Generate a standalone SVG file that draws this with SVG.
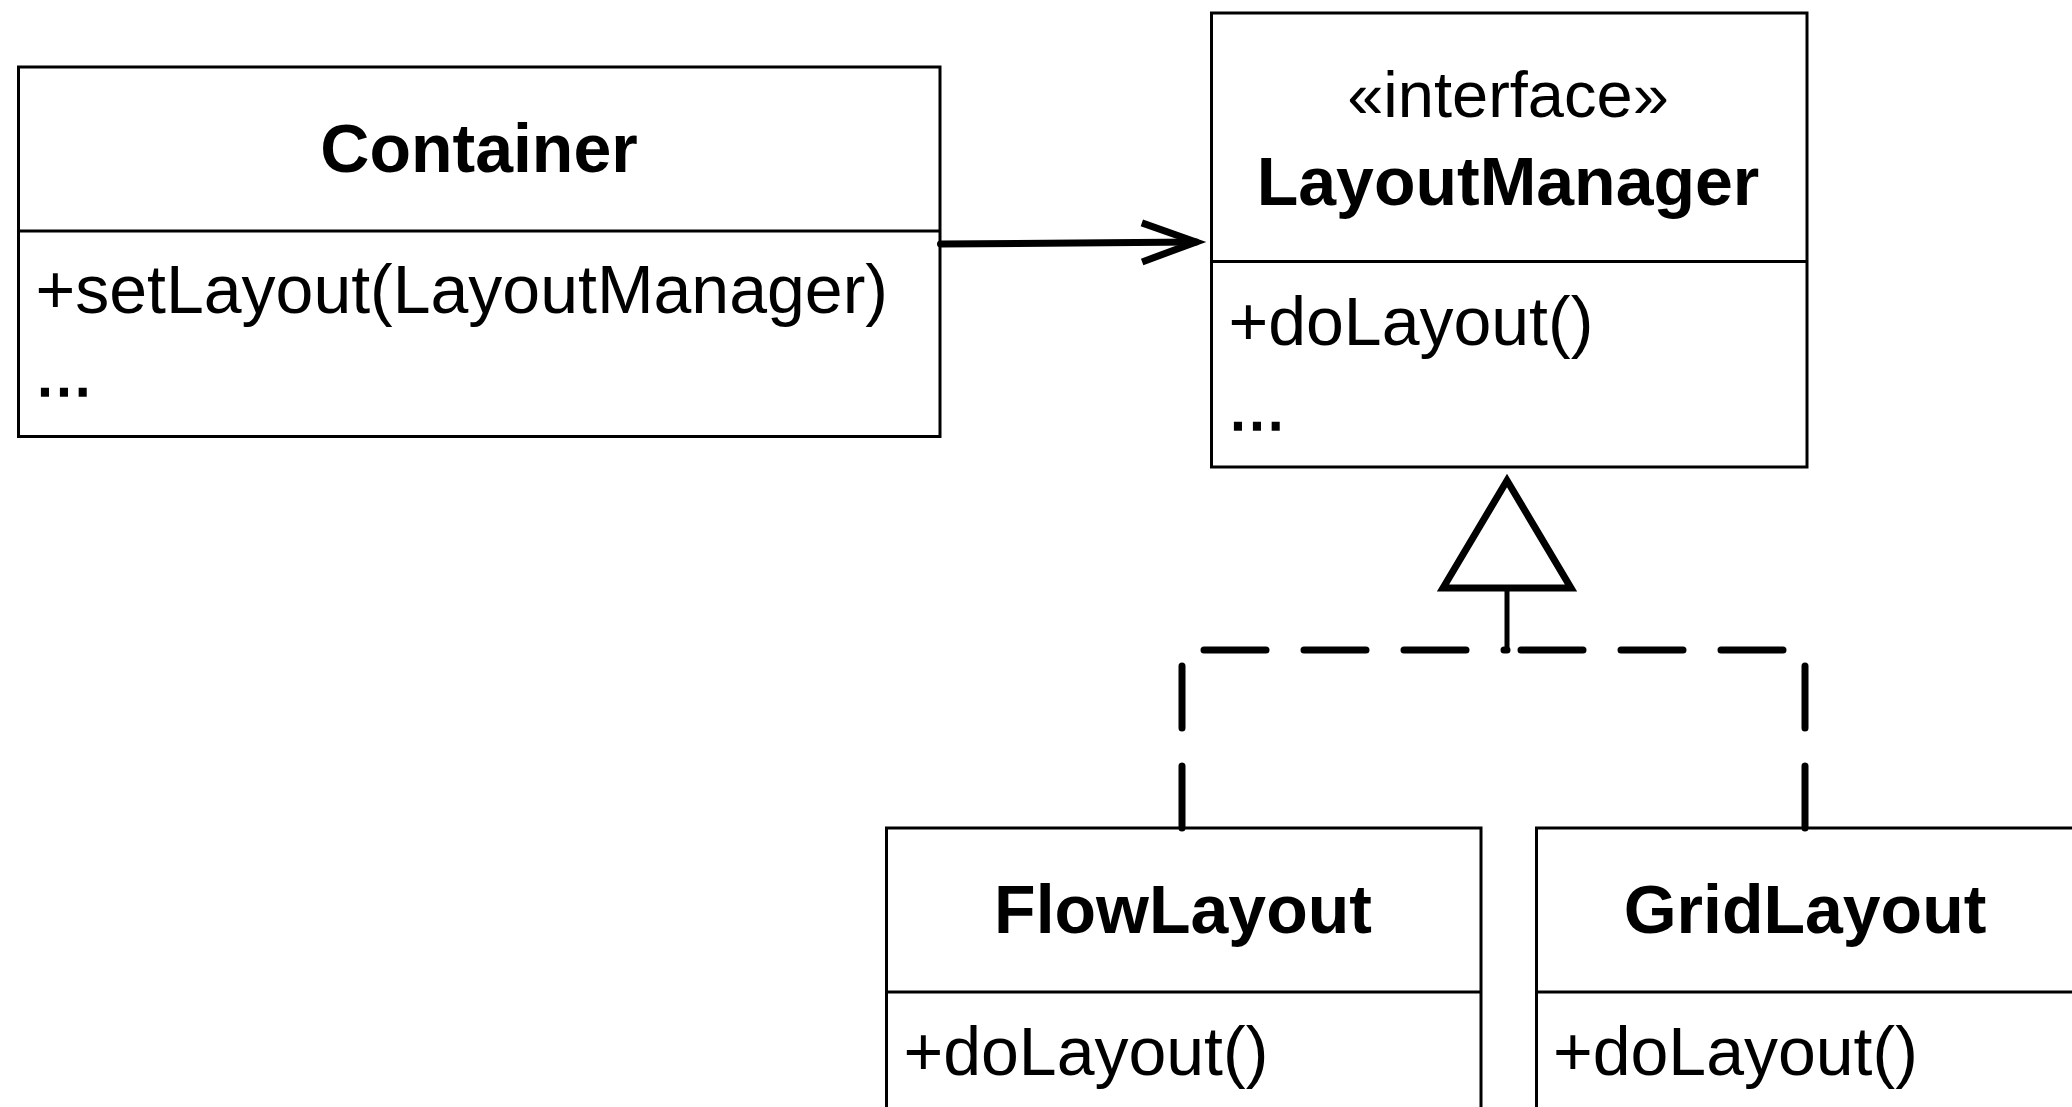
<svg xmlns="http://www.w3.org/2000/svg" width="2072" height="1107" viewBox="0 0 2072 1107">
  <style>
    .box { fill: #ffffff; stroke: #000000; stroke-width: 3; }
    .sep { stroke: #000000; stroke-width: 3; }
    .title { font-family: "Liberation Sans", Arial, Helvetica, sans-serif; font-weight: bold; font-size: 68px; text-anchor: middle; fill: #000000; }
    .stereo { font-family: "Liberation Sans", Arial, Helvetica, sans-serif; font-size: 65px; text-anchor: middle; fill: #000000; }
    .member { font-family: "Liberation Sans", Arial, Helvetica, sans-serif; font-size: 68px; fill: #000000; }
    .more { stroke: #000000; stroke-width: 1.6; }
    .assoc { fill: none; stroke: #000000; stroke-width: 7; stroke-linecap: round; }
    .realize { fill: none; stroke: #000000; stroke-width: 7; stroke-linecap: round; stroke-dasharray: 62 38; }
    .stem { fill: none; stroke: #000000; stroke-width: 5; stroke-linecap: round; }
  </style>
  <defs>
    <!-- open arrowhead for navigable association -->
    <marker id="openArrow" markerUnits="userSpaceOnUse" viewBox="-70 -35 90 70" markerWidth="90" markerHeight="70" refX="0" refY="0" orient="auto" overflow="visible">
      <path d="M -54 -19.5 L 0 0 L -54 19.5" fill="none" stroke="#000000" stroke-width="7" stroke-linejoin="miter" stroke-miterlimit="6"/>
    </marker>
    <!-- hollow triangle for realization -->
    <marker id="hollowTriangle" markerUnits="userSpaceOnUse" viewBox="-10 -80 140 160" markerWidth="140" markerHeight="160" refX="0" refY="0" orient="auto" overflow="visible">
      <path d="M 0 -64 L 107.5 0 L 0 64 Z" fill="#ffffff" stroke="#000000" stroke-width="7" stroke-linejoin="miter" stroke-miterlimit="6"/>
    </marker>
  </defs>

  <rect width="2072" height="1107" fill="#ffffff"/>

  <g id="Container">
    <rect class="box" x="18.5" y="67" width="921.5" height="369.5"/>
    <line class="sep" x1="18.5" y1="231" x2="940" y2="231"/>
    <text class="title" x="479" y="172">Container</text>
    <text class="member" x="35.5" y="313">+setLayout(LayoutManager)</text>
    <text class="member more" x="35.5" y="396">...</text>
  </g>

  <g id="LayoutManager">
    <rect class="box" x="1211.5" y="13" width="595.5" height="454"/>
    <line class="sep" x1="1211.5" y1="261.5" x2="1807" y2="261.5"/>
    <text class="stereo" x="1508" y="117">«interface»</text>
    <text class="title" x="1508" y="205">LayoutManager</text>
    <text class="member" x="1228.5" y="345">+doLayout()</text>
    <text class="member more" x="1228.5" y="430">...</text>
  </g>

  <g id="FlowLayout">
    <rect class="box" x="886.5" y="828" width="594.5" height="320"/>
    <line class="sep" x1="886.5" y1="992" x2="1481" y2="992"/>
    <text class="title" x="1183" y="933">FlowLayout</text>
    <text class="member" x="903.5" y="1075">+doLayout()</text>
  </g>

  <g id="GridLayout">
    <rect class="box" x="1536.5" y="828" width="538" height="320"/>
    <line class="sep" x1="1536.5" y1="992" x2="2074.5" y2="992"/>
    <text class="title" x="1805" y="933">GridLayout</text>
    <text class="member" x="1553" y="1075">+doLayout()</text>
  </g>

  <g id="connectors">
    <!-- Container uses LayoutManager -->
    <path class="assoc" d="M 940.5 244 L 1196 242" marker-end="url(#openArrow)"/>
    <!-- FlowLayout and GridLayout realize LayoutManager -->
    <path class="realize" d="M 1182 828 L 1182 650 L 1507 650"/>
    <path class="realize" d="M 1805 828 L 1805 650 L 1507 650"/>
    <path class="stem" d="M 1507 650 L 1507 588" marker-end="url(#hollowTriangle)"/>
  </g>
</svg>
